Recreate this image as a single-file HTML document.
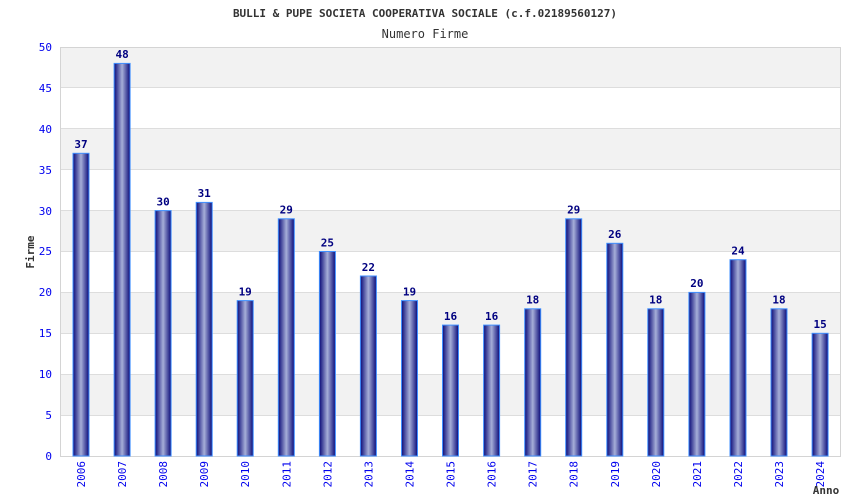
<!DOCTYPE html>
<html><head><meta charset="utf-8"><style>
body{margin:0;background:#fff}
svg{display:block;font-family:"DejaVu Sans Mono","Liberation Mono",monospace}
.y{font-size:11px;fill:#0000ee;text-anchor:end}
.v{font-size:11px;font-weight:bold;fill:#000080;text-anchor:middle}
.b{fill:url(#g);stroke:#3f8fff;stroke-width:1}
.x{font-size:11px;fill:#0000ee;text-anchor:end}
</style></head><body>
<svg width="850" height="500" xmlns="http://www.w3.org/2000/svg">
<defs>
<linearGradient id="g" x1="0" x2="1" y1="0" y2="0">
<stop offset="0" stop-color="#0a0a78"/>
<stop offset="0.5" stop-color="#a6aed8"/>
<stop offset="1" stop-color="#0a0a78"/>
</linearGradient>
</defs>
<text x="425" y="17" text-anchor="middle" font-size="11" font-weight="bold" fill="#333">BULLI &amp; PUPE SOCIETA COOPERATIVA SOCIALE (c.f.02189560127)</text>
<text x="425" y="38" text-anchor="middle" font-size="12" fill="#333">Numero Firme</text>
<g fill="#f2f2f2">
<rect x="60" y="374.2" width="781" height="40.9"/>
<rect x="60" y="292.4" width="781" height="40.9"/>
<rect x="60" y="210.6" width="781" height="40.9"/>
<rect x="60" y="128.8" width="781" height="40.9"/>
<rect x="60" y="47" width="781" height="40.9"/>
</g>
<g stroke="#ddd">
<line x1="60" x2="841" y1="415.5" y2="415.5"/>
<line x1="60" x2="841" y1="374.5" y2="374.5"/>
<line x1="60" x2="841" y1="333.5" y2="333.5"/>
<line x1="60" x2="841" y1="292.5" y2="292.5"/>
<line x1="60" x2="841" y1="251.5" y2="251.5"/>
<line x1="60" x2="841" y1="210.5" y2="210.5"/>
<line x1="60" x2="841" y1="169.5" y2="169.5"/>
<line x1="60" x2="841" y1="128.5" y2="128.5"/>
<line x1="60" x2="841" y1="87.5" y2="87.5"/>
</g>
<rect x="60.5" y="47.5" width="780" height="409" fill="none" stroke="#d4d4d4"/>
<text class="y" x="52" y="460">0</text>
<text class="y" x="52" y="419">5</text>
<text class="y" x="52" y="378">10</text>
<text class="y" x="52" y="337">15</text>
<text class="y" x="52" y="296">20</text>
<text class="y" x="52" y="255">25</text>
<text class="y" x="52" y="215">30</text>
<text class="y" x="52" y="174">35</text>
<text class="y" x="52" y="133">40</text>
<text class="y" x="52" y="92">45</text>
<text class="y" x="52" y="51">50</text>

<rect class="b" x="73" y="153.3" width="16" height="302.7"/><text class="v" x="81" y="148">37</text>
<rect class="b" x="114.1" y="63.4" width="16" height="392.6"/><text class="v" x="122.1" y="58">48</text>
<rect class="b" x="155.1" y="210.6" width="16" height="245.4"/><text class="v" x="163.1" y="205.5">30</text>
<rect class="b" x="196.2" y="202.4" width="16" height="253.6"/><text class="v" x="204.2" y="197">31</text>
<rect class="b" x="237.2" y="300.6" width="16" height="155.4"/><text class="v" x="245.2" y="295.5">19</text>
<rect class="b" x="278.3" y="218.8" width="16" height="237.2"/><text class="v" x="286.3" y="213.5">29</text>
<rect class="b" x="319.4" y="251.5" width="16" height="204.5"/><text class="v" x="327.4" y="246.5">25</text>
<rect class="b" x="360.4" y="276" width="16" height="180"/><text class="v" x="368.4" y="271">22</text>
<rect class="b" x="401.5" y="300.6" width="16" height="155.4"/><text class="v" x="409.5" y="295.5">19</text>
<rect class="b" x="442.5" y="325.1" width="16" height="130.9"/><text class="v" x="450.5" y="320">16</text>
<rect class="b" x="483.6" y="325.1" width="16" height="130.9"/><text class="v" x="491.6" y="320">16</text>
<rect class="b" x="524.7" y="308.8" width="16" height="147.2"/><text class="v" x="532.7" y="303.5">18</text>
<rect class="b" x="565.7" y="218.8" width="16" height="237.2"/><text class="v" x="573.7" y="213.5">29</text>
<rect class="b" x="606.8" y="243.3" width="16" height="212.7"/><text class="v" x="614.8" y="238">26</text>
<rect class="b" x="647.8" y="308.8" width="16" height="147.2"/><text class="v" x="655.8" y="303.5">18</text>
<rect class="b" x="688.9" y="292.4" width="16" height="163.6"/><text class="v" x="696.9" y="287">20</text>
<rect class="b" x="730" y="259.7" width="16" height="196.3"/><text class="v" x="738" y="254.5">24</text>
<rect class="b" x="771" y="308.8" width="16" height="147.2"/><text class="v" x="779" y="303.5">18</text>
<rect class="b" x="812.1" y="333.3" width="16" height="122.7"/><text class="v" x="820.1" y="328">15</text>

<text class="x" transform="translate(85,461) rotate(-90)">2006</text>
<text class="x" transform="translate(126.1,461) rotate(-90)">2007</text>
<text class="x" transform="translate(167.1,461) rotate(-90)">2008</text>
<text class="x" transform="translate(208.2,461) rotate(-90)">2009</text>
<text class="x" transform="translate(249.2,461) rotate(-90)">2010</text>
<text class="x" transform="translate(290.3,461) rotate(-90)">2011</text>
<text class="x" transform="translate(331.4,461) rotate(-90)">2012</text>
<text class="x" transform="translate(372.4,461) rotate(-90)">2013</text>
<text class="x" transform="translate(413.5,461) rotate(-90)">2014</text>
<text class="x" transform="translate(454.5,461) rotate(-90)">2015</text>
<text class="x" transform="translate(495.6,461) rotate(-90)">2016</text>
<text class="x" transform="translate(536.7,461) rotate(-90)">2017</text>
<text class="x" transform="translate(577.7,461) rotate(-90)">2018</text>
<text class="x" transform="translate(618.8,461) rotate(-90)">2019</text>
<text class="x" transform="translate(659.8,461) rotate(-90)">2020</text>
<text class="x" transform="translate(700.9,461) rotate(-90)">2021</text>
<text class="x" transform="translate(742,461) rotate(-90)">2022</text>
<text class="x" transform="translate(783,461) rotate(-90)">2023</text>
<text class="x" transform="translate(824.1,461) rotate(-90)">2024</text>

<text transform="translate(34,252) rotate(-90)" text-anchor="middle" font-size="11" font-weight="bold" fill="#333">Firme</text>
<text x="826" y="494" text-anchor="middle" font-size="11" font-weight="bold" fill="#333">Anno</text>
</svg>
</body></html>
